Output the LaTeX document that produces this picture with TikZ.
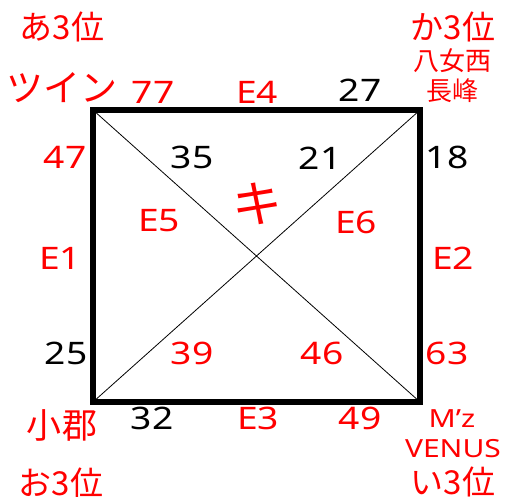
\documentclass[tikz,border=0pt]{standalone}
\usepackage{fontspec}
\setmainfont{Noto Sans CJK JP}
\newfontfamily\jpfont{Noto Sans CJK JP}
\newfontfamily\latfont[FakeStretch=1.2]{Noto Sans}
\definecolor{boardred}{RGB}{255,0,0}

\begin{document}
\begin{tikzpicture}[x=1pt,y=-1pt,
     num/.style={inner sep=0pt,font=\latfont\fontsize{31}{31}\selectfont},
     team/.style={inner sep=0pt,text=boardred,font=\jpfont\fontsize{#1}{#1}\selectfont},
     small/.style={inner sep=0pt,text=boardred,font=\latfont\fontsize{25}{25}\selectfont}
     ]
\useasboundingbox (0,0) rectangle (508,496);

%Corners of the board
\def \xmin{93}
\def \xmax{420}
\def \ymin{110}
\def \ymax{402}

\coordinate (nw) at (\xmin,\ymin);
\coordinate (ne) at (\xmax,\ymin);
\coordinate (sw) at (\xmin,\ymax);
\coordinate (se) at (\xmax,\ymax);

%Draw the board and its diagonals
\draw[line width=5.5pt] (nw) rectangle (se);
\draw[line width=0.8pt] (nw) -- (se) (ne) -- (sw);

%Scores round the board
\foreach \nm/\x/\y/\t/\c in {n77/153/92/77/boardred, e4/257/92/E4/boardred,
     n27/360/90/27/black, n47/65/157/47/boardred, n35/192/157/35/black,
     n21/320/158/21/black, n18/447/157/18/black, e5/159/221/E5/boardred,
     e6/356/222/E6/boardred, e1/60/258/E1/boardred, e2/453/258/E2/boardred,
     n25/66/353/25/black, n39/192/353/39/boardred, n46/322/353/46/boardred,
     n63/447/353/63/boardred, n32/152/418/32/black, e3/258/418/E3/boardred,
     n49/360/418/49/boardred}
   {
   \node[num,text=\c] (\nm) at (\x,\y) {\t};
   }

%Centre mark
\node[inner sep=0pt,text=boardred,font=\jpfont\fontsize{50}{50}\selectfont] (ki) at (257,204) {キ};

%Teams at the corners
\node[team=33] (a3) at (62,27) {あ3位};
\node[team=37] (twin) at (62,88) {ツイン};
\node[team=33] (ka3) at (453,27) {か3位};
\node[team=26] (yame) at (452,61) {八女西};
\node[team=26] (nagamine) at (452,91) {長峰};
\node[team=35] (ogori) at (62,425) {小郡};
\node[team=33] (o3) at (61,483) {お3位};
\node[small] (mz) at (452,419) {M’z};
\node[small] (venus) at (453,449) {VENUS};
\node[team=33] (i3) at (453,482) {い3位};
\end{tikzpicture}
\end{document}
